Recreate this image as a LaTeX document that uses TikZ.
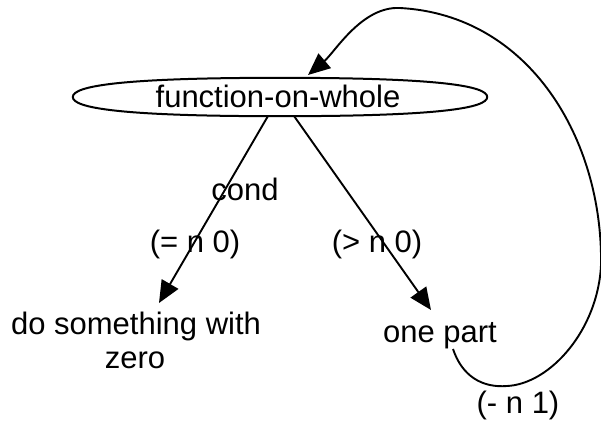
\documentclass[tikz,border=0pt]{standalone}
\usepackage{fontspec}
\setmainfont{Liberation Sans}
\usetikzlibrary{arrows.meta,shapes.geometric}
\begin{document}
\begin{tikzpicture}[x=1pt,y=-1pt,
  lbl/.style={inner sep=0pt,font=\fontsize{31}{36}\selectfont,anchor=base},
  conn/.style={line width=1.9pt,-{Triangle[length=22pt,width=19pt]}},
  oval/.style={ellipse,minimum width=414pt,minimum height=38pt,inner sep=0pt},
  ovalline/.style={line width=2pt}]
\useasboundingbox (0,0) rectangle (601,421);
\node[oval] (f) at (280,97) {};
\draw[ovalline] (f.west) .. controls +(0,-11) and +(-160,0) .. (f.north)
  .. controls +(160,0) and +(0,-11) .. (f.east)
  .. controls +(0,11) and +(160,0) .. (f.south)
  .. controls +(-160,0) and +(0,11) .. (f.west) -- cycle;
\node[lbl] (ft) at (278,107) {function-on-whole};
\node[lbl] (cond) at (245,200) {cond};
\node[lbl] (eq) at (195,252) {(= n 0)};
\node[lbl] (gt) at (377,252) {(> n 0)};
\node[lbl] (dz1) at (136,334) {do something with};
\node[lbl] (dz2) at (135,368) {zero};
\node[lbl] (op) at (440,342) {one part};
\node[lbl] (m1) at (518,413) {(- n 1)};
\coordinate (ls) at (268,116);
\coordinate (le) at (159,303);
\coordinate (rs) at (294,116);
\coordinate (re) at (431,310);
\coordinate (loops) at (453,349);
\coordinate (loope) at (308,75);
\draw[conn] (ls) -- (le);
\draw[conn] (rs) -- (re);
\draw[conn] (loops) .. controls (462,376) and (482,388) .. (507,386)
  .. controls (550,384) and (598,330) .. (601,265)
  .. controls (603,140) and (530,15) .. (400,8)
  .. controls (362,6) and (335,52) .. (loope);
\end{tikzpicture}
\end{document}
